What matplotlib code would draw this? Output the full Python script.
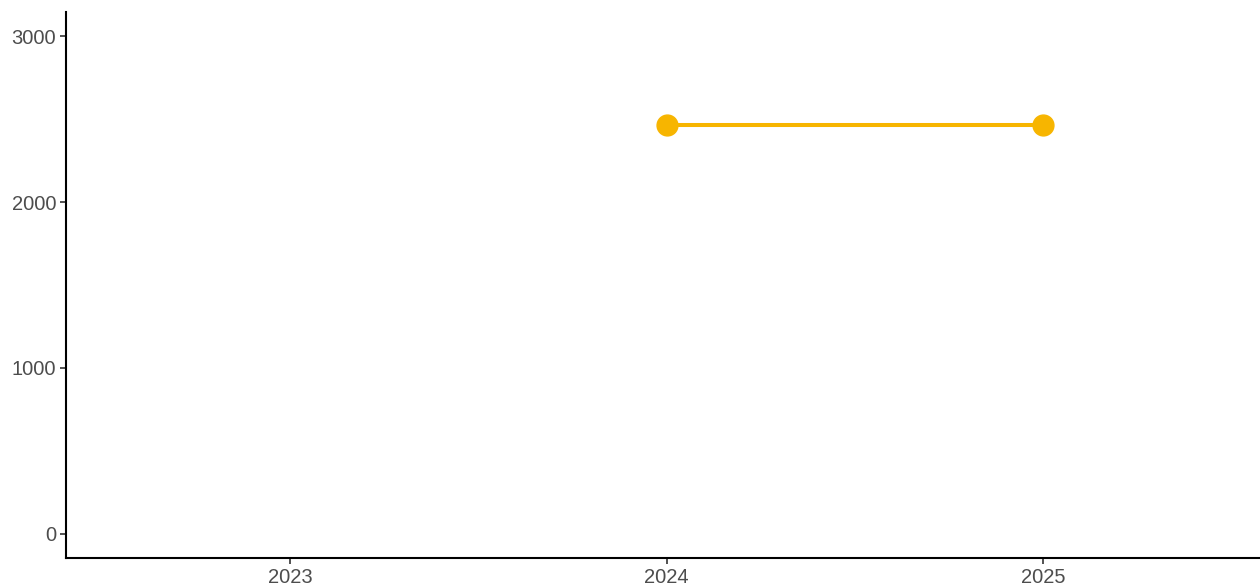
import matplotlib
matplotlib.use("Agg")
import matplotlib.pyplot as plt

# Data
years = [2024, 2025]
values = [2465, 2465]
xticks = [2023, 2024, 2025]
yticks = [0, 1000, 2000, 3000]

plt.rcParams['font.family'] = ['Liberation Sans', 'DejaVu Sans']

fig = plt.figure(figsize=(12.6, 5.86), dpi=100)
ax = fig.add_axes([0.0524, 0.0478, 0.9476, 0.9317])

ax.plot(years, values, color='#F7B500', linewidth=2.9, marker='o',
        markersize=15, solid_capstyle='butt', zorder=3)

ax.set_xlim(2022.405, 2025.576)
ax.set_ylim(-145, 3145)
ax.set_xticks(xticks)
ax.set_xticklabels([str(x) for x in xticks])
ax.set_yticks(yticks)

for side in ['top', 'right']:
    ax.spines[side].set_visible(False)
for side in ['left', 'bottom']:
    ax.spines[side].set_linewidth(1.5)
    ax.spines[side].set_color('black')

ax.tick_params(axis='both', colors='#333333', labelcolor='#4D4D4D',
               labelsize=14.5, length=4, width=1.2, pad=3)

fig.savefig('out.png', dpi=100)
